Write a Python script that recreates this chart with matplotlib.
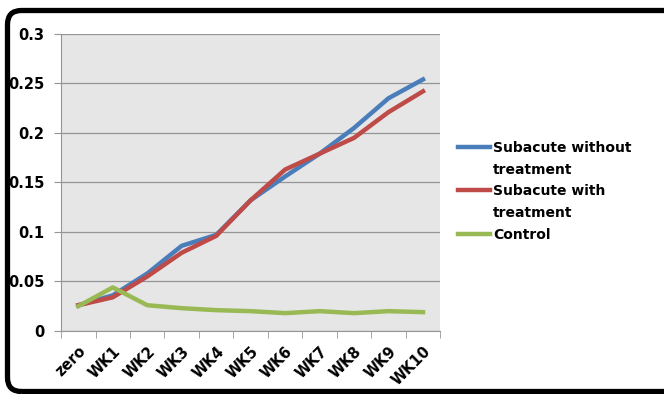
import matplotlib.pyplot as plt
from matplotlib.patches import FancyBboxPatch
from matplotlib.lines import Line2D
import numpy as np

weeks = ["zero", "WK1", "WK2", "WK3", "WK4", "WK5", "WK6", "WK7", "WK8", "WK9", "WK10"]
without_treatment = [0.026, 0.036, 0.058, 0.086, 0.097, 0.132, 0.156, 0.179, 0.205, 0.235, 0.254]
with_treatment = [0.026, 0.034, 0.055, 0.079, 0.096, 0.132, 0.163, 0.179, 0.195, 0.221, 0.242]
control = [0.025, 0.044, 0.026, 0.023, 0.021, 0.020, 0.018, 0.020, 0.018, 0.020, 0.019]

fig = plt.figure(figsize=(6.64, 3.94), dpi=100)

# rounded black frame, drawn in pixel units
bg = fig.add_axes([0, 0, 1, 1], zorder=-1)
bg.set_xlim(0, 664)
bg.set_ylim(0, 394)
bg.axis("off")
bg.add_patch(FancyBboxPatch((7.5, 2.5), 680, 381,
                            boxstyle="round,pad=0,rounding_size=14",
                            fill=False, ec="black", lw=3.8, clip_on=False))

ax = fig.add_axes([0.092, 0.160, 0.571, 0.754])
ax.set_facecolor("#e6e6e6")

x = np.arange(len(weeks))
ax.plot(x, without_treatment, color="#4a7ebb", lw=3.2, zorder=3)
ax.plot(x, with_treatment, color="#be4b48", lw=3.2, zorder=4)
ax.plot(x, control, color="#98b954", lw=3.2, zorder=5)

ax.set_xlim(-0.5, len(weeks) - 0.5)
ax.set_ylim(0, 0.3)
ax.set_yticks([0, 0.05, 0.1, 0.15, 0.2, 0.25, 0.3])
ax.set_yticklabels(["0", "0.05", "0.1", "0.15", "0.2", "0.25", "0.3"])
ax.yaxis.grid(True, color="#959595", lw=0.9)
ax.set_axisbelow(True)

ax.set_xticks(x)
ax.set_xticklabels(weeks, rotation=45, ha="right", rotation_mode="anchor")
ax.set_xticks(np.arange(len(weeks) + 1) - 0.5, minor=True)
ax.tick_params(axis="x", which="major", length=0, pad=9)
ax.tick_params(axis="x", which="minor", length=5, color="#959595", direction="out")
ax.tick_params(axis="y", length=5, color="#959595", direction="out", pad=7)
for lab in ax.get_xticklabels() + ax.get_yticklabels():
    lab.set_fontweight("bold")
    lab.set_fontsize(10.5)

for s in ["top", "right"]:
    ax.spines[s].set_visible(False)
for s in ["left", "bottom"]:
    ax.spines[s].set_color("#959595")

# legend: wrapped second lines are blank-handle entries
blank = Line2D([], [], color="none")
handles = [Line2D([], [], color="#4a7ebb", lw=3.2), blank,
           Line2D([], [], color="#be4b48", lw=3.2), blank,
           Line2D([], [], color="#98b954", lw=3.2)]
labels = ["Subacute without", "treatment", "Subacute with", "treatment", "Control"]
ax.legend(handles, labels, loc="center left", bbox_to_anchor=(1.047, 0.47),
          frameon=False, prop={"weight": "bold", "size": 10}, handlelength=2.3,
          handletextpad=0.2, labelspacing=0.55, borderpad=0, borderaxespad=0)

plt.savefig("out.png", dpi=100)
